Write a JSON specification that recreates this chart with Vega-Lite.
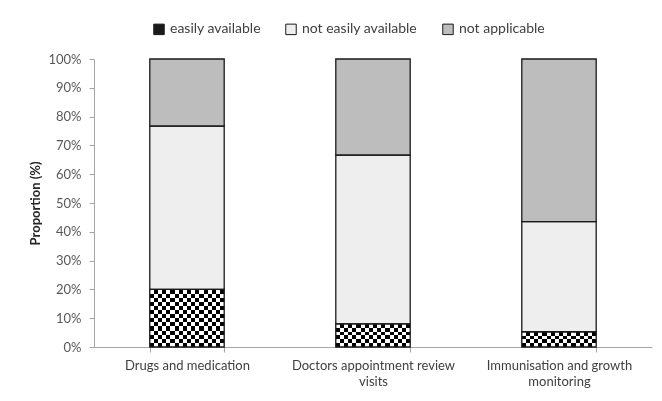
{
  "$schema": "https://vega.github.io/schema/vega-lite/v6.json",
  "autosize": {"type": "none"},
  "width": 558,
  "height": 288,
  "padding": {"left": 94, "top": 59, "right": 10, "bottom": 54},
  "background": "white",
  "config": {
    "view": {"stroke": null},
    "font": "Lato",
    "axis": {"labelFont": "Lato", "titleFont": "Lato", "labelColor": "#595959", "domainColor": "#a6a6a6", "tickColor": "#a6a6a6", "grid": false}
  },
  "data": {
    "values": [
      {"category": "Drugs and medication", "status": "easily available", "order": 1, "value": 20.0},
      {"category": "Drugs and medication", "status": "not easily available", "order": 2, "value": 56.7},
      {"category": "Drugs and medication", "status": "not applicable", "order": 3, "value": 23.3},
      {"category": "Doctors appointment review visits", "status": "easily available", "order": 1, "value": 8.0},
      {"category": "Doctors appointment review visits", "status": "not easily available", "order": 2, "value": 58.6},
      {"category": "Doctors appointment review visits", "status": "not applicable", "order": 3, "value": 33.4},
      {"category": "Immunisation and growth monitoring", "status": "easily available", "order": 1, "value": 5.3},
      {"category": "Immunisation and growth monitoring", "status": "not easily available", "order": 2, "value": 38.2},
      {"category": "Immunisation and growth monitoring", "status": "not applicable", "order": 3, "value": 56.5}
    ]
  },
  "encoding": {
    "x": {
      "field": "category", "type": "nominal", "sort": null,
      "scale": {"paddingInner": 0.6, "paddingOuter": 0.3},
      "axis": {
        "title": null, "labelAngle": 0, "labelFontSize": 13, "labelColor": "#404040",
        "tickBand": "extent", "tickSize": 5, "labelPadding": 7, "labelLineHeight": 16,
        "labelExpr": "datum.label == 'Doctors appointment review visits' ? ['Doctors appointment review', 'visits'] : datum.label == 'Immunisation and growth monitoring' ? ['Immunisation and growth', 'monitoring'] : datum.label"
      }
    },
    "y": {
      "field": "value", "type": "quantitative", "stack": "zero",
      "scale": {"domain": [0, 100]},
      "axis": {"title": "Proportion (%)", "titleFontSize": 13, "titleFontWeight": "bold", "titleColor": "#262626", "titlePadding": 5, "labelExpr": "datum.value + '%'", "values": [0, 10, 20, 30, 40, 50, 60, 70, 80, 90, 100], "labelFontSize": 13, "tickSize": 5, "labelPadding": 8}
    },
    "order": {"field": "order", "type": "quantitative"}
  },
  "layer": [
    {
      "mark": {"type": "bar"},
      "encoding": {
        "fill": {
          "field": "status", "type": "nominal",
          "scale": {"domain": ["easily available", "not easily available", "not applicable"], "range": ["#1a1a1a", "#eeeeee", "#bdbdbd"]},
          "legend": {
            "title": null, "orient": "none", "direction": "horizontal", "legendX": 58, "legendY": -37,
            "symbolType": "square", "symbolSize": 110, "symbolStrokeColor": "#1a1a1a", "symbolStrokeWidth": 1,
            "labelFontSize": 14, "labelColor": "#404040", "labelOffset": 4, "columnPadding": 22
          }
        }
      }
    },
    {
      "transform": [{"filter": "datum.status == 'easily available'"}],
      "mark": {"type": "bar", "fill": {"gradient": "linear", "x1": 0, "x2": 1, "y1": 0, "y2": 0, "stops": [
        {"offset": 0, "color": "black"}, {"offset": 0.0556, "color": "black"},
        {"offset": 0.0556, "color": "white"}, {"offset": 0.1111, "color": "white"},
        {"offset": 0.1111, "color": "black"}, {"offset": 0.1667, "color": "black"},
        {"offset": 0.1667, "color": "white"}, {"offset": 0.2222, "color": "white"},
        {"offset": 0.2222, "color": "black"}, {"offset": 0.2778, "color": "black"},
        {"offset": 0.2778, "color": "white"}, {"offset": 0.3333, "color": "white"},
        {"offset": 0.3333, "color": "black"}, {"offset": 0.3889, "color": "black"},
        {"offset": 0.3889, "color": "white"}, {"offset": 0.4444, "color": "white"},
        {"offset": 0.4444, "color": "black"}, {"offset": 0.5, "color": "black"},
        {"offset": 0.5, "color": "white"}, {"offset": 0.5556, "color": "white"},
        {"offset": 0.5556, "color": "black"}, {"offset": 0.6111, "color": "black"},
        {"offset": 0.6111, "color": "white"}, {"offset": 0.6667, "color": "white"},
        {"offset": 0.6667, "color": "black"}, {"offset": 0.7222, "color": "black"},
        {"offset": 0.7222, "color": "white"}, {"offset": 0.7778, "color": "white"},
        {"offset": 0.7778, "color": "black"}, {"offset": 0.8333, "color": "black"},
        {"offset": 0.8333, "color": "white"}, {"offset": 0.8889, "color": "white"},
        {"offset": 0.8889, "color": "black"}, {"offset": 0.9444, "color": "black"},
        {"offset": 0.9444, "color": "white"}, {"offset": 1, "color": "white"}
      ]}},
      "encoding": {}
    },
    {
      "transform": [{"filter": "datum.status == 'easily available'"}],
      "mark": {"type": "bar", "blend": "difference"},
      "encoding": {
        "fill": {
          "condition": [
            {"test": "datum.category == 'Drugs and medication'", "value": {"gradient": "linear", "x1": 0, "x2": 0, "y1": 0, "y2": 1, "stops": [
              {"offset": 0, "color": "white"}, {"offset": 0.0714, "color": "white"},
              {"offset": 0.0714, "color": "black"}, {"offset": 0.1429, "color": "black"},
              {"offset": 0.1429, "color": "white"}, {"offset": 0.2143, "color": "white"},
              {"offset": 0.2143, "color": "black"}, {"offset": 0.2857, "color": "black"},
              {"offset": 0.2857, "color": "white"}, {"offset": 0.3571, "color": "white"},
              {"offset": 0.3571, "color": "black"}, {"offset": 0.4286, "color": "black"},
              {"offset": 0.4286, "color": "white"}, {"offset": 0.5, "color": "white"},
              {"offset": 0.5, "color": "black"}, {"offset": 0.5714, "color": "black"},
              {"offset": 0.5714, "color": "white"}, {"offset": 0.6429, "color": "white"},
              {"offset": 0.6429, "color": "black"}, {"offset": 0.7143, "color": "black"},
              {"offset": 0.7143, "color": "white"}, {"offset": 0.7857, "color": "white"},
              {"offset": 0.7857, "color": "black"}, {"offset": 0.8571, "color": "black"},
              {"offset": 0.8571, "color": "white"}, {"offset": 0.9286, "color": "white"},
              {"offset": 0.9286, "color": "black"}, {"offset": 1, "color": "black"}
            ]}},
            {"test": "datum.category == 'Doctors appointment review visits'", "value": {"gradient": "linear", "x1": 0, "x2": 0, "y1": 0, "y2": 1, "stops": [
              {"offset": 0, "color": "white"}, {"offset": 0.1667, "color": "white"},
              {"offset": 0.1667, "color": "black"}, {"offset": 0.3333, "color": "black"},
              {"offset": 0.3333, "color": "white"}, {"offset": 0.5, "color": "white"},
              {"offset": 0.5, "color": "black"}, {"offset": 0.6667, "color": "black"},
              {"offset": 0.6667, "color": "white"}, {"offset": 0.8333, "color": "white"},
              {"offset": 0.8333, "color": "black"}, {"offset": 1, "color": "black"}
            ]}}
          ],
          "value": {"gradient": "linear", "x1": 0, "x2": 0, "y1": 0, "y2": 1, "stops": [
            {"offset": 0, "color": "white"}, {"offset": 0.25, "color": "white"},
            {"offset": 0.25, "color": "black"}, {"offset": 0.5, "color": "black"},
            {"offset": 0.5, "color": "white"}, {"offset": 0.75, "color": "white"},
            {"offset": 0.75, "color": "black"}, {"offset": 1, "color": "black"}
          ]}
        }
      }
    },
    {
      "mark": {"type": "bar", "fill": "transparent", "stroke": "#1a1a1a", "strokeWidth": 1.3},
      "encoding": {}
    }
  ]
}
